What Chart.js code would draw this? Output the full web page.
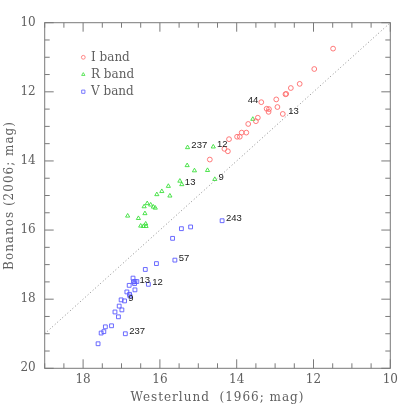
<!DOCTYPE html>
<html>
<head>
<meta charset="utf-8">
<script src="https://cdn.jsdelivr.net/npm/chart.js@4/dist/chart.umd.min.js"></script>
<style>
  html, body { margin: 0; padding: 0; background: #fff; }
  #chart { display: block; }
</style>
</head>
<body>
<canvas id="chart" width="412" height="412"></canvas>
<script>
'use strict';

// ── Data ───────────────────────────────────────────────────
const xTitle = 'Westerlund  (1966; mag)';
const yTitle = 'Bonanos (2006; mag)';

const iBandX = [11.49, 11.98, 12.36, 12.59, 12.71, 12.73, 12.97, 13.36, 12.94, 13.22, 13.16, 13.17,
                12.80, 13.45, 13.50, 13.70, 13.87, 13.75, 13.99, 13.92, 14.20, 14.32, 14.23, 14.70];
const iBandY = [10.75, 11.34, 11.77, 11.89, 12.06, 12.07, 12.22, 12.30, 12.44, 12.49, 12.50, 12.58,
                12.64, 12.75, 12.85, 12.93, 13.18, 13.18, 13.30, 13.30, 13.37, 13.65, 13.72, 13.96];
const iBandTags = [[7, '44'], [12, '13']];

const rBandX = [15.28, 14.61, 13.58, 15.29, 15.10, 14.76, 14.57, 15.48, 15.43, 15.78, 15.95, 16.08, 15.74,
                16.33, 16.41, 16.24, 16.17, 16.12, 16.39, 16.84, 16.56, 16.37, 16.50, 16.43, 16.36];
const rBandY = [13.61, 13.59, 12.79, 14.13, 14.28, 14.27, 14.53, 14.58, 14.68, 14.73, 14.88, 14.97, 15.01,
                15.23, 15.32, 15.27, 15.33, 15.36, 15.52, 15.59, 15.66, 15.82, 15.88, 15.89, 15.89];
const rBandTags = [[0, '237'], [1, '12'], [6, '9'], [7, '13']];

const vBandX = [14.38, 15.20, 15.44, 15.67, 15.61, 16.09, 16.38, 16.30, 16.70, 16.69, 16.65, 16.60, 16.66, 16.80, 16.65,
                16.86, 16.79, 16.78, 16.92, 17.01, 17.06, 16.99, 17.17, 17.08, 17.26, 17.42, 17.46, 17.53, 16.90, 17.61];
const vBandY = [15.73, 15.91, 15.96, 16.24, 16.87, 16.97, 17.14, 17.57, 17.39, 17.50, 17.49, 17.49, 17.55, 17.60, 17.73,
                17.79, 17.86, 17.91, 18.05, 18.02, 18.20, 18.31, 18.37, 18.51, 18.77, 18.80, 18.94, 18.98, 19.00, 19.29];
const vBandTags = [[0, '243'], [4, '57'], [7, '12'], [11, '13'], [17, '9'], [28, '237']];

const oneToOne = [19, 10];   // equal-magnitude line ends

const xRange = [10, 19];
const yRange = [10, 20];

// ── Styling ────────────────────────────────────────────────
const AXIS_GREY = '#7a7a7a';
const TEXT_GREY = '#606060';
const SERIF = '"DejaVu Serif", "Liberation Serif", serif';
const SANS = '"Liberation Sans", Arial, sans-serif';

// tag offsets (px) relative to the marker: [dx, dy, align]
const tagOffsets = {
  'I-44': [-3, 0.5, 'right'],
  'I-13': [5.5, 0.5, 'left'],
  'R-13': [5, 4, 'left'],
  'V-13': [2.6, 1.8, 'left'],
  'V-9':  [-1.7, 4.7, 'left']
};

const toPoints = (xs, ys) => xs.map((x, i) => ({ x, y: ys[i] }));
const isMajor = v => Math.abs(v % 2) < 1e-6;

const bands = [
  { key: 'I', label: 'I band', color: '#ff6b6b', style: 'circle',   radius: 2.4, xs: iBandX, ys: iBandY, tags: iBandTags },
  { key: 'R', label: 'R band', color: '#3be03b', style: 'triangle', radius: 2.4, xs: rBandX, ys: rBandY, tags: rBandTags },
  { key: 'V', label: 'V band', color: '#5a5aff', style: 'rect',     radius: 2.7, xs: vBandX, ys: vBandY, tags: vBandTags }
];

// ── Frame plugin: inward ticks, box, titles, legend, tags ──
const framePlugin = {
  id: 'frame',
  afterDraw(chart) {
    const { ctx, chartArea: a, scales } = chart;
    ctx.save();

    // box + inward ticks
    ctx.strokeStyle = AXIS_GREY;
    ctx.lineWidth = 1;
    ctx.strokeRect(a.left, a.top, a.right - a.left, a.bottom - a.top);
    ctx.beginPath();
    scales.x.ticks.forEach(t => {
      const px = scales.x.getPixelForValue(t.value);
      const len = isMajor(t.value) ? 9 : 5;
      ctx.moveTo(px, a.bottom); ctx.lineTo(px, a.bottom - len);
      ctx.moveTo(px, a.top);    ctx.lineTo(px, a.top + len);
    });
    scales.y.ticks.forEach(t => {
      const py = scales.y.getPixelForValue(t.value);
      const len = isMajor(t.value) ? 9 : 5;
      ctx.moveTo(a.left, py);  ctx.lineTo(a.left + len, py);
      ctx.moveTo(a.right, py); ctx.lineTo(a.right - len, py);
    });
    ctx.stroke();

    // axis titles
    ctx.fillStyle = TEXT_GREY;
    ctx.font = `12px ${SERIF}`;
    ctx.letterSpacing = '1px';
    ctx.textAlign = 'center';
    ctx.textBaseline = 'middle';
    ctx.fillText(xTitle, (a.left + a.right) / 2, 397.5);
    ctx.save();
    ctx.translate(10, (a.top + a.bottom) / 2);
    ctx.rotate(-Math.PI / 2);
    ctx.fillText(yTitle, 0, 0);
    ctx.restore();
    ctx.letterSpacing = '0px';

    // legend
    ctx.textAlign = 'left';
    bands.forEach((b, i) => {
      const y = a.top + 34.6 + i * 17.2;
      ctx.strokeStyle = b.color;
      ctx.fillStyle = 'rgba(0,0,0,0)';
      ctx.lineWidth = 0.8;
      Chart.helpers.drawPoint(ctx, {
        pointStyle: b.style, radius: b.style === 'rect' ? 2.3 : 1.9, borderWidth: 0.8, rotation: 0
      }, 83.3, y);
      ctx.fillStyle = TEXT_GREY;
      ctx.fillText(b.label, 91, y + 0.5);
    });

    // point tags
    ctx.font = `9.5px ${SANS}`;
    ctx.fillStyle = '#1a1a1a';
    ctx.textBaseline = 'alphabetic';
    bands.forEach((b, di) => {
      const meta = chart.getDatasetMeta(di + 1);
      b.tags.forEach(([idx, text]) => {
        const el = meta.data[idx];
        const [dx, dy, align] = tagOffsets[`${b.key}-${text}`] || [3.8, 0.5, 'left'];
        ctx.textAlign = align;
        ctx.fillText(text, el.x + dx, el.y + dy);
      });
    });

    ctx.restore();
  }
};

new Chart(document.getElementById('chart').getContext('2d'), {
  type: 'scatter',
  data: {
    datasets: [
      {
        type: 'line',
        label: '1:1',
        data: oneToOne.map(v => ({ x: v, y: v })),
        borderColor: '#8a8a8a',
        borderWidth: 1,
        borderDash: [1, 2.4],
        pointRadius: 0,
        fill: false
      },
      ...bands.map(b => ({
        label: b.label,
        data: toPoints(b.xs, b.ys),
        pointStyle: b.style,
        pointRadius: b.radius,
        pointBorderWidth: 0.9,
        borderColor: b.color,
        backgroundColor: 'rgba(0,0,0,0)'
      }))
    ]
  },
  options: {
    responsive: false,
    animation: false,
    devicePixelRatio: 1,
    clip: false,
    layout: { padding: { top: 22.7, right: 21.7, left: 0, bottom: 0 } },
    plugins: { legend: { display: false }, tooltip: { enabled: false } },
    scales: {
      x: {
        type: 'linear', min: xRange[0], max: xRange[1], reverse: true,
        grid: { display: false, drawTicks: false },
        border: { display: false },
        ticks: {
          stepSize: 0.5, autoSkip: false, maxRotation: 0, padding: 4,
          color: TEXT_GREY, font: { family: SERIF, size: 12 },
          callback: v => isMajor(v) ? String(Math.round(v)) : ''
        },
        afterFit: s => { s.height = 43.7; }
      },
      y: {
        type: 'linear', min: yRange[0], max: yRange[1], reverse: true,
        grid: { display: false, drawTicks: false },
        border: { display: false },
        ticks: {
          stepSize: 0.5, autoSkip: false, padding: 9,
          color: TEXT_GREY, font: { family: SERIF, size: 12 },
          callback: v => isMajor(v) ? String(Math.round(v)) : ''
        },
        afterFit: s => { s.width = 44.7; }
      }
    }
  },
  plugins: [framePlugin]
});
</script>
</body>
</html>
